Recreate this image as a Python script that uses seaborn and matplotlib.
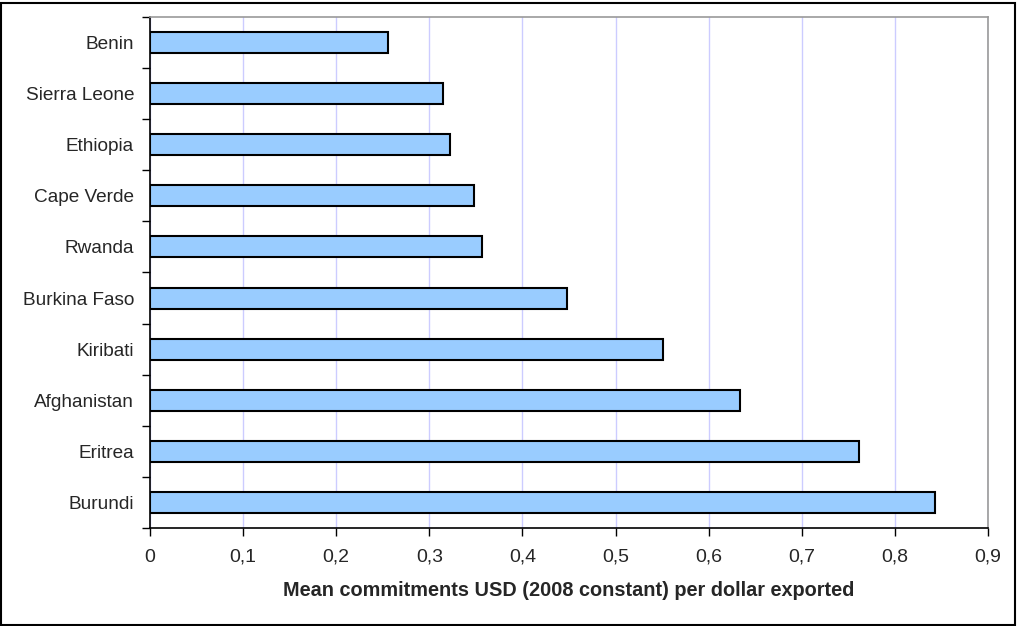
import numpy as np
import pandas as pd
import matplotlib
matplotlib.use("Agg")
import matplotlib.pyplot as plt
import seaborn as sns
from matplotlib.patches import Rectangle

countries = ["Benin", "Sierra Leone", "Ethiopia", "Cape Verde", "Rwanda",
             "Burkina Faso", "Kiribati", "Afghanistan", "Eritrea", "Burundi"]
values = [0.256, 0.315, 0.322, 0.348, 0.357, 0.448, 0.551, 0.634, 0.761, 0.843]
xticks = [0, 0.1, 0.2, 0.3, 0.4, 0.5, 0.6, 0.7, 0.8, 0.9]
xtick_labels = ["0", "0,1", "0,2", "0,3", "0,4", "0,5", "0,6", "0,7", "0,8", "0,9"]
xlabel = "Mean commitments USD (2008 constant) per dollar exported"

df = pd.DataFrame({"country": countries, "value": values})

sns.set_style("white")
plt.rcParams["font.family"] = ["Liberation Sans", "DejaVu Sans"]

fig = plt.figure(figsize=(10.17, 6.26), dpi=100)
ax = fig.add_axes([0.1475, 0.1565, 0.824, 0.8165])

sns.barplot(data=df, x="value", y="country", orient="h", color="#99CCFF",
            saturation=1, edgecolor="black", linewidth=1.5, width=0.41, ax=ax)

ax.set_xlim(0, 0.9)
ax.set_ylim(9.5, -0.5)
ax.set_xticks(xticks)
ax.set_xticklabels(xtick_labels, fontsize=14)
ax.tick_params(axis="x", direction="out", length=6, width=1, color="black",
               bottom=True, pad=9)

# y: labels without tick marks, ticks at category boundaries
ax.tick_params(axis="y", which="major", length=0, labelsize=13.7, pad=11.5)
ax.set_yticks(np.arange(-0.5, 10, 1), minor=True)
ax.tick_params(axis="y", which="minor", direction="out", length=6, width=1,
               color="black", left=True)

ax.set_ylabel("")
ax.set_xlabel(xlabel, fontsize=14.3, fontweight="bold", labelpad=11)

ax.grid(axis="x", color="#CCCCFF", linewidth=1)
ax.set_axisbelow(True)

for side in ["left", "bottom"]:
    ax.spines[side].set_color("black")
    ax.spines[side].set_linewidth(1.2)
for side in ["top", "right"]:
    ax.spines[side].set_visible(True)
    ax.spines[side].set_color("#999999")
    ax.spines[side].set_linewidth(1.2)

fig.patches.append(Rectangle((0.001, 0.002), 0.997, 0.994, transform=fig.transFigure,
                             fill=False, edgecolor="black", linewidth=1.5))

fig.savefig("out.png", dpi=100, facecolor="white")
